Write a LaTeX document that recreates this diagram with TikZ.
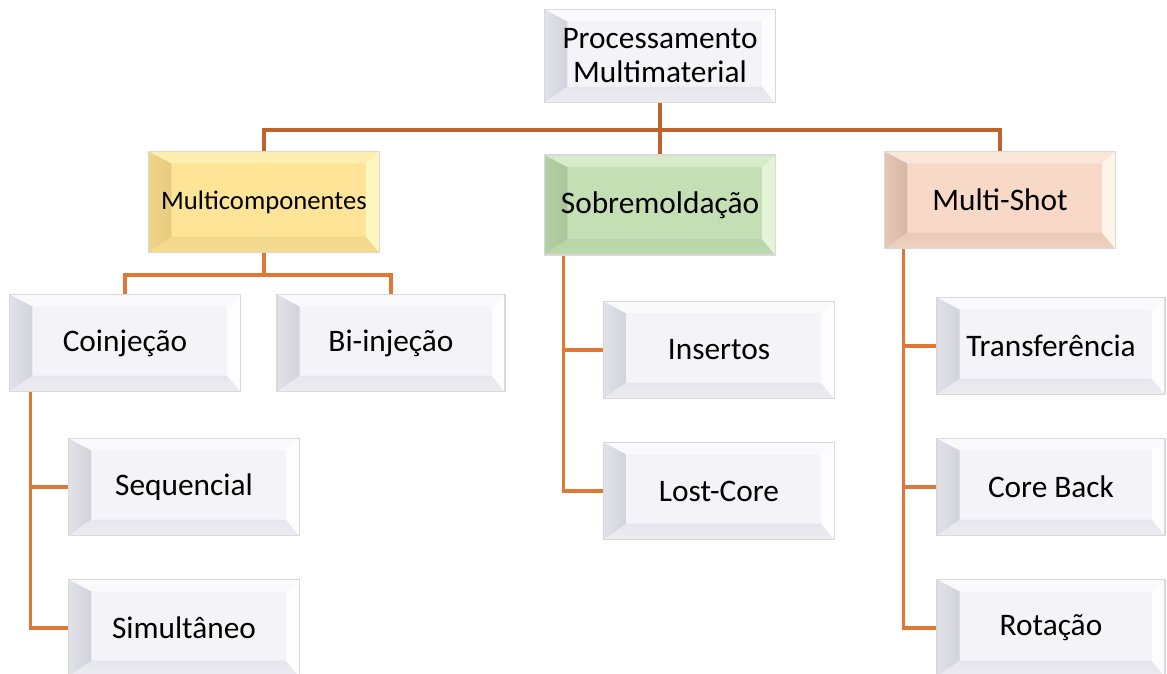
\documentclass[tikz,border=0pt]{standalone}
\usepackage{fontspec}
\setmainfont{Carlito}
\usetikzlibrary{positioning,calc}

\definecolor{linkc}{RGB}{192,98,44}
\definecolor{railc}{RGB}{222,120,52}
% white boxes
\definecolor{wface}{RGB}{244,244,248}
\definecolor{wleft}{RGB}{210,210,220}
\definecolor{wbot}{RGB}{230,230,236}
\definecolor{wright}{RGB}{253,253,255}
\definecolor{wtop}{RGB}{250,250,252}
% yellow
\definecolor{yface}{RGB}{253,228,150}
\definecolor{yleft}{RGB}{230,202,126}
\definecolor{ybot}{RGB}{242,216,140}
\definecolor{yright}{RGB}{255,246,192}
\definecolor{ytop}{RGB}{255,238,176}
% green
\definecolor{gface}{RGB}{197,223,180}
\definecolor{gleft}{RGB}{168,196,152}
\definecolor{gbot}{RGB}{184,212,168}
\definecolor{gright}{RGB}{226,245,214}
\definecolor{gtop}{RGB}{214,235,200}
% peach
\definecolor{pface}{RGB}{248,217,200}
\definecolor{pleft}{RGB}{214,183,166}
\definecolor{pbot}{RGB}{234,201,183}
\definecolor{pright}{RGB}{255,244,234}
\definecolor{ptop}{RGB}{251,230,218}

\tikzset{
  bevel/.style n args={5}{
    fill=#1, draw=black!15, line width=1.2pt,
    minimum width=173pt, minimum height=73pt, inner sep=2pt,
    font=\fontsize{23.5}{25.5}\selectfont, align=center,
    path picture={
      \coordinate (pnw) at (path picture bounding box.north west);
      \coordinate (pne) at (path picture bounding box.north east);
      \coordinate (psw) at (path picture bounding box.south west);
      \coordinate (pse) at (path picture bounding box.south east);
      \coordinate (inw) at ($(pnw)+(17pt,-9pt)$);
      \coordinate (ine) at ($(pne)+(-10pt,-9pt)$);
      \coordinate (isw) at ($(psw)+(17pt,12pt)$);
      \coordinate (ise) at ($(pse)+(-10pt,12pt)$);
      \shade[left color=#2!55!#1, right color=#2] (pnw) -- (psw) -- (isw) -- (inw) -- cycle;
      \shade[top color=#3, bottom color=#3!60!#1] (psw) -- (pse) -- (ise) -- (isw) -- cycle;
      \fill[#4] (pse) -- (pne) -- (ine) -- (ise) -- cycle;
      \fill[#5] (pne) -- (pnw) -- (inw) -- (ine) -- cycle;
    }},
  leaf/.style={bevel={wface}{wleft}{wbot}{wright}{wtop}},
  gold/.style={bevel={yface}{yleft}{ybot}{yright}{ytop}},
  mint/.style={bevel={gface}{gleft}{gbot}{gright}{gtop}},
  peach/.style={bevel={pface}{pleft}{pbot}{pright}{ptop}},
  link/.style={draw=linkc, line width=2.3pt},
  rail/.style={draw=railc, line width=2.3pt},
}

\begin{document}
\begin{tikzpicture}[x=0.75pt,y=-0.75pt]
  \useasboundingbox (0,0) rectangle (1167,674);

  \node[leaf, minimum height=70pt] (proc) at (660,56) {Processamento\\Multimaterial};
  \node[gold, minimum height=76pt, font=\fontsize{20}{22}\selectfont] (mcomp) at (264,202) {Multicomponentes};
  \node[mint, minimum height=75pt] (sobre) at (660,205) {Sobremoldação};
  \node[peach] (mshot) at (1000,200) {Multi-Shot};

  \node[leaf] (coinj) at (125,343) {Coinjeção};
  \node[leaf, minimum width=171pt] (biinj) at (391,343) {Bi-injeção};
  \node[leaf] (seq) at (184,487) {Sequencial};
  \node[leaf] (simul) at (184,628) {Simultâneo};

  \node[leaf] (ins) at (719,350) {Insertos};
  \node[leaf] (lost) at (719,491) {Lost-Core};

  \node[leaf, minimum width=171pt] (transf) at (1051,346) {Transferência};
  \node[leaf, minimum width=171pt] (coreb) at (1051,487) {Core Back};
  \node[leaf, minimum width=171pt] (rot) at (1051,628) {Rotação};

  % top level
  \coordinate (bus) at (660,130);
  \draw[link] (proc) -- (bus) -- (sobre);
  \draw[link] (mcomp) |- (bus) -| (mshot);

  % multicomponentes
  \coordinate (bus2) at (264,275);
  \draw[rail] (mcomp) -- (bus2);
  \draw[rail] (coinj) |- (bus2) -| (biinj);

  % side rails
  \coordinate (r1) at ($(coinj.south west)+(22,0)$);
  \draw[rail] (r1) |- (simul.west);
  \draw[rail] (r1 |- seq.west) -- (seq.west);

  \coordinate (r2) at ($(sobre.south west)+(20,0)$);
  \draw[rail] (r2) |- (lost.west);
  \draw[rail] (r2 |- ins.west) -- (ins.west);

  \coordinate (r3) at ($(mshot.south west)+(20,0)$);
  \draw[rail] (r3) |- (rot.west);
  \draw[rail] (r3 |- transf.west) -- (transf.west);
  \draw[rail] (r3 |- coreb.west) -- (coreb.west);
\end{tikzpicture}
\end{document}
